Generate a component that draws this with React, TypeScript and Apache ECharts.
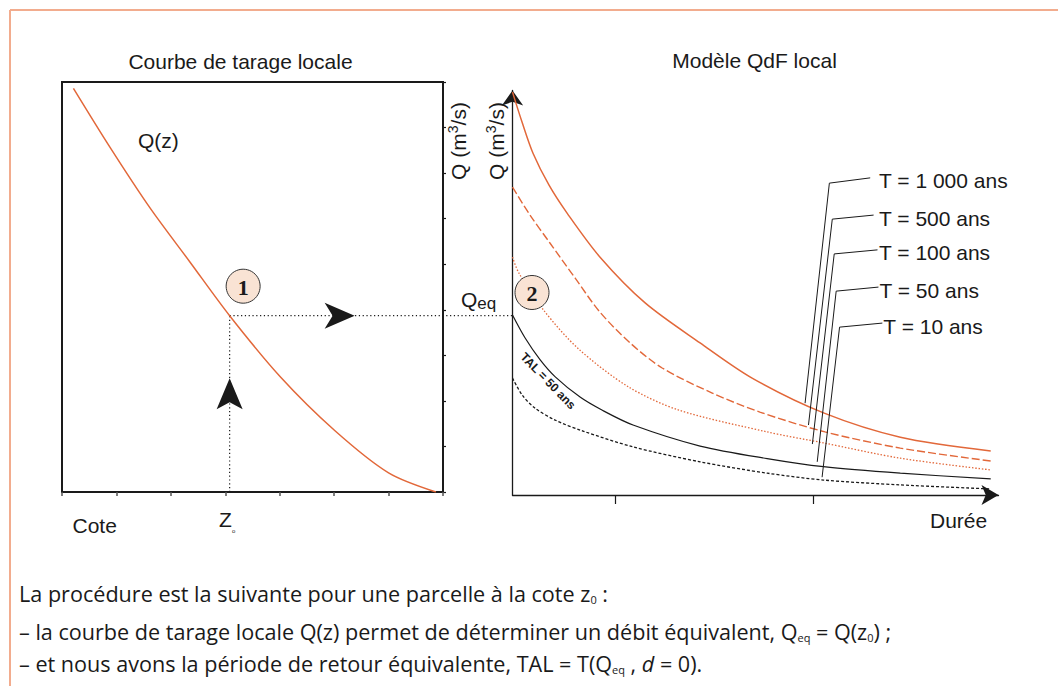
import React, { useEffect, useRef } from "react";
import * as echarts from "echarts";

const INK = "#1a1a1a";
const ORANGE = "#e2683a";
const BORDER = "#f2ac8e";
const CIRCLE_FILL = "#f9e3d4";
const FONT = "'Liberation Sans', Arial, Helvetica, sans-serif";
const BODY_FONT = "'Open Sans', 'Liberation Sans', Arial, sans-serif";
const SERIF = "'Liberation Serif', 'DejaVu Serif', serif";

// ---- Left panel: local rating curve Q(z) ----
const COTE_MAX = 7;
const Q_MAX = 9;
const RATING_CURVE: [number, number][] = [
  [0.21, 8.86], [0.88, 7.57], [1.62, 6.23], [2.35, 5.05], [3.08, 3.87],
  [4.01, 2.53], [5.01, 1.35], [6.0, 0.42], [6.87, 0.0],
];
const Z0 = 3.08;
const QEQ = 3.87;

// ---- Right panel: local QdF model ----
const DUREE_MAX = 100;
const QDF_MAX = 100;
const DUREE_TICKS = [21.2, 61.9];
const QDF_T1000: [number, number][] = [
  [0, 99.6], [1.96, 92.2], [4.22, 84.5], [7.52, 76.6], [11.23, 69.7], [18.02, 58.8],
  [27.29, 47.5], [38.6, 37.6], [49.3, 28.9], [64.0, 20.3], [79.8, 14.3], [98.4, 10.9],
];
const QDF_T500: [number, number][] = [
  [0, 76.1], [3.6, 69.2], [7.7, 62.3], [12.9, 53.6], [18.0, 45.2], [24.2, 37.6],
  [30.8, 31.4], [41.1, 25.2], [50.9, 20.5], [64.3, 15.6], [79.8, 11.6], [98.4, 8.4],
];
const QDF_T100: [number, number][] = [
  [0, 58.8], [1.3, 54.9], [6.4, 45.7], [13.6, 36.1], [23.9, 26.7], [34.2, 21.0],
  [52.4, 15.6], [63.9, 12.9], [79.8, 9.1], [98.4, 6.2],
];
const QDF_TAL: [number, number][] = [
  [0, 44.5], [2.6, 38.8], [5.7, 33.4], [8.8, 29.2], [13.9, 24.2], [18.4, 21.0],
  [24.8, 17.3], [38.6, 12.1], [52.4, 9.0], [64.0, 7.0], [79.8, 5.4], [98.4, 4.0],
];
const QDF_T10: [number, number][] = [
  [0, 28.9], [2.0, 24.7], [4.6, 21.5], [8.8, 18.5], [14.5, 15.8], [24.8, 11.9],
  [38.6, 8.2], [52.4, 5.4], [64.0, 3.7], [79.8, 2.5], [98.4, 1.5],
];

const LEADER_LABELS = ["T = 1 000 ans", "T = 500 ans", "T = 100 ans", "T = 50 ans", "T = 10 ans"];
const LEADER_POINTS: [number, number][][] = [
  [[73.6, 78.4], [65.2, 77.1], [60.2, 22.7]],
  [[74.3, 69.2], [65.8, 68.2], [60.9, 17.3]],
  [[75.1, 60.6], [66.2, 59.6], [61.7, 12.6]],
  [[75.3, 51.4], [66.6, 50.4], [62.7, 8.2]],
  [[76.1, 42.5], [67.3, 41.5], [63.7, 4.4]],
];

const TITLE_LEFT = "Courbe de tarage locale";
const TITLE_RIGHT = "Modèle QdF local";

const curve = (
  data: [number, number][],
  grid: number,
  color: string,
  type: any,
  width: number
) => ({
  type: "line",
  xAxisIndex: grid,
  yAxisIndex: grid,
  data,
  showSymbol: false,
  smooth: 0.3,
  lineStyle: { color, type, width },
  z: 3,
});

const txt = (text: string, x: number, y: number, extra: any = {}, el: any = {}) => ({
  type: "text",
  x,
  y,
  z: 100,
  ...el,
  style: {
    text,
    fontSize: 21,
    fontFamily: FONT,
    fill: INK,
    textAlign: "left",
    textVerticalAlign: "middle",
    ...extra,
  },
});

export default function App() {
  const ref = useRef<HTMLDivElement>(null);

  useEffect(() => {
    if (!ref.current) return;
    const chart = echarts.init(ref.current, null, { renderer: "svg" });

    const hiddenLabel = { show: false };
    const option: any = {
      animation: false,
      grid: [
        { left: 62, top: 82, width: 381, height: 410, show: true, borderColor: INK, borderWidth: 2 },
        { left: 512.5, top: 90.5, width: 486, height: 404.5, show: false },
      ],
      xAxis: [
        {
          gridIndex: 0, type: "value", min: 0, max: COTE_MAX, interval: 1,
          axisLine: { show: true, onZero: false, lineStyle: { color: INK, width: 2 } },
          axisTick: { show: true, length: 4, lineStyle: { color: "#555", width: 1.5 } },
          axisLabel: hiddenLabel, splitLine: { show: false },
        },
        {
          gridIndex: 1, type: "value", min: 0, max: DUREE_MAX,
          axisLine: {
            show: true, onZero: false, symbol: ["none", "arrow"], symbolSize: [15, 17],
            lineStyle: { color: INK, width: 1.3 },
          },
          axisTick: { show: true, customValues: DUREE_TICKS, length: 9, lineStyle: { color: INK, width: 1.2 } },
          axisLabel: hiddenLabel, splitLine: { show: false },
        },
      ],
      yAxis: [
        {
          gridIndex: 0, type: "value", position: "right", min: 0, max: Q_MAX, interval: 1,
          axisLine: { show: true, onZero: false, lineStyle: { color: INK, width: 2 } },
          axisTick: { show: true, length: 3, lineStyle: { color: INK, width: 1.2 } },
          axisLabel: hiddenLabel, splitLine: { show: false },
        },
        {
          gridIndex: 1, type: "value", min: 0, max: QDF_MAX,
          axisLine: {
            show: true, onZero: false, symbol: ["none", "arrow"], symbolSize: [16, 15],
            lineStyle: { color: INK, width: 1.3 },
          },
          axisTick: { show: false }, axisLabel: hiddenLabel, splitLine: { show: false },
        },
      ],
      series: [
        curve(RATING_CURVE, 0, ORANGE, "solid", 1.5),
        {
          type: "line", xAxisIndex: 0, yAxisIndex: 0,
          data: [[Z0, 0], [Z0, QEQ]], showSymbol: false,
          lineStyle: { color: INK, type: [1.2, 2.6], width: 1.2 }, z: 2,
        },
        curve(QDF_T1000, 1, ORANGE, "solid", 1.5),
        curve(QDF_T500, 1, ORANGE, [8, 3], 1.4),
        curve(QDF_T100, 1, ORANGE, [1.5, 1.8], 1.3),
        curve(QDF_TAL, 1, INK, "solid", 1.2),
        curve(QDF_T10, 1, INK, [3, 2], 1.3),
        ...LEADER_POINTS.map((pts) => ({
          type: "line", xAxisIndex: 1, yAxisIndex: 1, data: pts, showSymbol: false,
          lineStyle: { color: INK, width: 1 }, z: 4,
        })),
      ],
    };
    chart.setOption(option);

    const p0 = chart.convertToPixel({ gridIndex: 0 }, [Z0, QEQ]) as number[];
    const pA = chart.convertToPixel({ gridIndex: 1 }, QDF_TAL[0]) as number[];
    const x0 = p0[0];
    const y0 = p0[1];

    const stealthRight = (tx: number, ty: number) => ({
      type: "polygon", z: 100,
      shape: { points: [[tx, ty], [tx - 30, ty - 13], [tx - 22, ty], [tx - 30, ty + 13]] },
      style: { fill: INK },
    });
    const stealthUp = (tx: number, ty: number) => ({
      type: "polygon", z: 100,
      shape: { points: [[tx, ty], [tx + 13, ty + 31], [tx, ty + 24], [tx - 13, ty + 31]] },
      style: { fill: INK },
    });
    const badge = (cx: number, cy: number, n: string) => [
      { type: "circle", z: 100, shape: { cx, cy, r: 17 }, style: { fill: CIRCLE_FILL, stroke: "#333", lineWidth: 1 } },
      txt(n, cx, cy + 1, { fontFamily: SERIF, fontWeight: "bold", fontSize: 22, textAlign: "center" }, { z: 101 }),
    ];

    const leaderLabels = LEADER_POINTS.map((pts, i) => {
      const p = chart.convertToPixel({ gridIndex: 1 }, pts[0]) as number[];
      return txt(LEADER_LABELS[i], Math.max(p[0] + 1, 879), p[1] + 3);
    });

    const BODY = 21.6;
    const sub = (size: number) => ({ fontSize: size, fontFamily: BODY_FONT, fill: INK, lineHeight: 12, verticalAlign: "bottom" });
    const norm = (size: number, family = FONT) => ({ fontSize: size, fontFamily: family, fill: INK, lineHeight: 24 });
    const sup3 = { fontSize: 14, fontFamily: FONT, fill: INK, lineHeight: 14, verticalAlign: "top" };

    const graphic: any[] = [
      { type: "line", z: 100, shape: { x1: 10, y1: 10, x2: 1058, y2: 10 }, style: { stroke: BORDER, lineWidth: 2 } },
      { type: "line", z: 100, shape: { x1: 10, y1: 10, x2: 10, y2: 686 }, style: { stroke: BORDER, lineWidth: 2 } },
      txt(TITLE_LEFT, 240.5, 61, { textAlign: "center" }),
      txt(TITLE_RIGHT, 754.5, 60, { textAlign: "center" }),
      txt("Q(z)", 138, 140),
      txt("Cote", 72.5, 525),
      txt("Z", 219, 519),
      txt("o", 232, 531, { fontSize: 6 }),
      txt("Durée", 930, 520),
      {
        type: "text", z: 100, x: 458, y: 141, rotation: Math.PI / 2,
        style: {
          text: "{a|Q (m}{s|3}{a|/s)}", textAlign: "center", textVerticalAlign: "middle",
          rich: { a: norm(21), s: sup3 },
        },
      },
      {
        type: "text", z: 100, x: 496, y: 141, rotation: Math.PI / 2,
        style: {
          text: "{a|Q (m}{s|3}{a|/s)}", textAlign: "center", textVerticalAlign: "middle",
          rich: { a: norm(21), s: sup3 },
        },
      },
      {
        type: "text", z: 100, x: 461, y: y0 - 16,
        style: {
          text: "{a|Q}{e|eq}", textAlign: "left", textVerticalAlign: "middle",
          rich: { a: norm(21), e: { fontSize: 17, fontFamily: FONT, fill: INK, lineHeight: 21, verticalAlign: "bottom" } },
        },
      },
      { type: "line", z: 2, shape: { x1: x0, y1: y0, x2: pA[0], y2: y0 }, style: { stroke: INK, lineWidth: 1.2, lineDash: [1.2, 2.6] } },
      stealthRight(x0 + 125, y0),
      stealthUp(x0, y0 + 62.5),
      ...badge(x0 + 13.5, y0 - 29.5, "1"),
      ...badge(pA[0] + 19.5, pA[1] - 22.5, "2"),
      txt("TAL = 50 ans", 548, 381, { fontSize: 12, fontWeight: "bold", textAlign: "center" }, { rotation: -0.8 }),
      ...leaderLabels,
      {
        type: "text", z: 100, x: 19, y: 593,
        style: {
          text: "{n|La procédure est la suivante pour une parcelle à la cote z}{s|0}{n| :}",
          textAlign: "left", textVerticalAlign: "middle",
          rich: { n: norm(BODY, BODY_FONT), s: sub(11) },
        },
      },
      {
        type: "text", z: 100, x: 19, y: 631,
        style: {
          text: "{n|– la courbe de tarage locale Q(z) permet de déterminer un débit équivalent, Q}{s|eq}{n| = Q(z}{s|0}{n|) ;}",
          textAlign: "left", textVerticalAlign: "middle",
          rich: { n: norm(BODY, BODY_FONT), s: sub(11) },
        },
      },
      {
        type: "text", z: 100, x: 19, y: 663,
        style: {
          text: "{n|– et nous avons la période de retour équivalente, TAL = T(Q}{s|eq}{n| , }{i|d}{n| = 0).}",
          textAlign: "left", textVerticalAlign: "middle",
          rich: { n: norm(BODY, BODY_FONT), s: sub(11), i: { ...norm(BODY, BODY_FONT), fontStyle: "italic" } },
        },
      },
    ];
    chart.setOption({ graphic });

    return () => chart.dispose();
  }, []);

  return (
    <div
      ref={ref}
      style={{ position: "absolute", left: 0, top: 0, width: 1058, height: 686, background: "#fff" }}
    />
  );
}
